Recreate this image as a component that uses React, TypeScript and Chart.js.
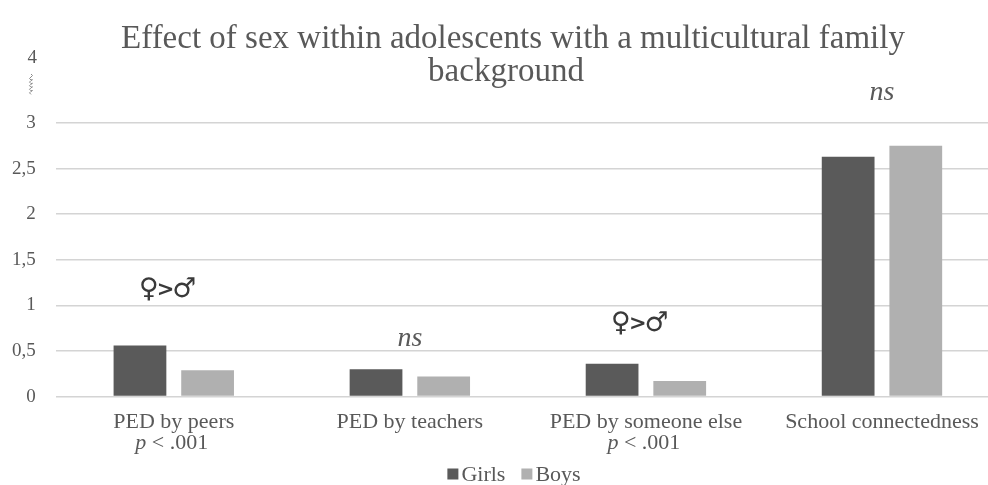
import React, { useEffect, useRef } from "react";
import { Chart, registerables } from "chart.js";

Chart.register(...registerables);

const categories = ["PED by peers", "PED by teachers", "PED by someone else", "School connectedness"];
const girls = [0.56, 0.30, 0.36, 2.63];
const boys = [0.29, 0.22, 0.17, 2.75];
const annotations = ["♀>♂", "ns", "♀>♂", "ns"];
const annotationLevels = [1.17, 0.61, 0.80, 3.31];
const pNotes = ["< .001", "", "< .001", ""];
const titleLines = ["Effect of sex within adolescents with a multicultural family", "background"];
const yTicks = [0, 0.5, 1, 1.5, 2, 2.5, 3];

const TEXT = "#595959";
const SERIF = "'Liberation Serif', 'Times New Roman', serif";

const overlay = {
  id: "overlay",
  afterDraw(chart: any) {
    const ctx = chart.ctx;
    const x = chart.scales.x;
    const y = chart.scales.y;
    ctx.save();
    ctx.fillStyle = TEXT;
    // title
    ctx.font = `33px ${SERIF}`;
    ctx.textAlign = "center";
    ctx.textBaseline = "alphabetic";
    ctx.fillText(titleLines[0], 513, 48);
    ctx.fillText(titleLines[1], 506, 81);
    // axis break
    ctx.font = `19px ${SERIF}`;
    ctx.textAlign = "right";
    ctx.textBaseline = "middle";
    ctx.fillText("4", 37, 58);
    ctx.strokeStyle = "#8a8a8a";
    ctx.lineWidth = 1;
    ctx.beginPath();
    const sx = 31;
    let sy = 74;
    ctx.moveTo(sx, sy);
    for (let i = 0; i < 5; i++) {
      ctx.quadraticCurveTo(sx + 3, sy + 1.5, sx, sy + 3);
      ctx.quadraticCurveTo(sx - 3, sy + 4.5, sx, sy + 6);
      sy += 3.6;
    }
    ctx.stroke();
    // annotations
    categories.forEach((_, i) => {
      const cx = x.getPixelForValue(i);
      const ay = y.getPixelForValue(annotationLevels[i]);
      const a = annotations[i];
      ctx.textBaseline = "middle";
      ctx.fillStyle = TEXT;
      if (a === "ns") {
        ctx.textAlign = "center";
        ctx.font = `italic 28px ${SERIF}`;
        ctx.fillText(a, cx, ay - 2);
      } else {
        const parts = Array.from(a);
        const fonts = [`27px 'DejaVu Sans', sans-serif`, `bold 21px 'DejaVu Sans', sans-serif`, `27px 'DejaVu Sans', sans-serif`];
        const widths = parts.map((p, k) => {
          ctx.font = fonts[k];
          return ctx.measureText(p).width;
        });
        const tight = -2;
        const total = widths.reduce((s, w) => s + w, 0) + tight * (parts.length - 1);
        let px = cx - 6 - total / 2;
        ctx.textAlign = "left";
        ctx.fillStyle = "#3a3a3a";
        parts.forEach((p, k) => {
          ctx.font = fonts[k];
          ctx.fillText(p, px, ay + (k === 1 ? 1 : 0));
          px += widths[k] + tight;
        });
      }
      ctx.fillStyle = TEXT;
      if (pNotes[i]) {
        ctx.textBaseline = "alphabetic";
        ctx.font = `italic 22px ${SERIF}`;
        const pw = ctx.measureText("p ").width;
        ctx.font = `22px ${SERIF}`;
        const rw = ctx.measureText(pNotes[i]).width;
        const start = cx - 2 - (pw + rw) / 2;
        ctx.textAlign = "left";
        ctx.font = `italic 22px ${SERIF}`;
        ctx.fillText("p ", start, 449);
        ctx.font = `22px ${SERIF}`;
        ctx.fillText(pNotes[i], start + pw, 449);
      }
    });
    // legend
    ctx.font = `22px ${SERIF}`;
    ctx.textBaseline = "middle";
    ctx.textAlign = "left";
    const ds = chart.data.datasets;
    const box = 11;
    const gap = 3;
    const itemGap = 16;
    let total = 0;
    ds.forEach((d: any, k: number) => {
      total += box + gap + ctx.measureText(d.label).width + (k < ds.length - 1 ? itemGap : 0);
    });
    let lx = 514 - total / 2;
    const ly = 474;
    ds.forEach((d: any) => {
      ctx.fillStyle = d.backgroundColor;
      ctx.fillRect(lx, ly - box / 2, box, box);
      lx += box + gap;
      ctx.fillStyle = TEXT;
      ctx.fillText(d.label, lx, ly + 1);
      lx += ctx.measureText(d.label).width + itemGap;
    });
    ctx.restore();
  },
};

export default function App() {
  const ref = useRef<HTMLCanvasElement>(null);
  useEffect(() => {
    document.body.style.margin = "0";
    document.body.style.overflow = "hidden";
    const chart = new Chart(ref.current!, {
      type: "bar",
      data: {
        labels: categories,
        datasets: [
          { label: "Girls", data: girls, backgroundColor: "#5a5a5a", categoryPercentage: 0.573, barPercentage: 0.78 },
          { label: "Boys", data: boys, backgroundColor: "#b0b0b0", categoryPercentage: 0.573, barPercentage: 0.78 },
        ],
      },
      options: {
        animation: false,
        responsive: false,
        layout: { padding: { top: 123, left: -8, right: 0, bottom: 46 } },
        plugins: { legend: { display: false }, title: { display: false }, tooltip: { enabled: false } },
        scales: {
          x: {
            grid: { display: false },
            border: { display: false },
            ticks: { color: TEXT, font: { family: SERIF, size: 22 }, padding: 4, maxRotation: 0, autoSkip: false },
          },
          y: {
            min: 0,
            max: 3,
            afterBuildTicks: (s: any) => {
              s.ticks = yTicks.map((v) => ({ value: v }));
            },
            grid: { color: "#d4d4d4", lineWidth: 1.5, drawTicks: false },
            border: { display: false },
            ticks: {
              color: TEXT,
              font: { family: SERIF, size: 19 },
              padding: 20,
              callback: (v: any) => String(v).replace(".", ","),
            },
          },
        },
      },
      plugins: [overlay],
    });
    return () => chart.destroy();
  }, []);
  return (
    <div style={{ width: 988, height: 485, overflow: "hidden" }}>
      <canvas ref={ref} width={1000} height={485} style={{ display: "block" }} />
    </div>
  );
}
